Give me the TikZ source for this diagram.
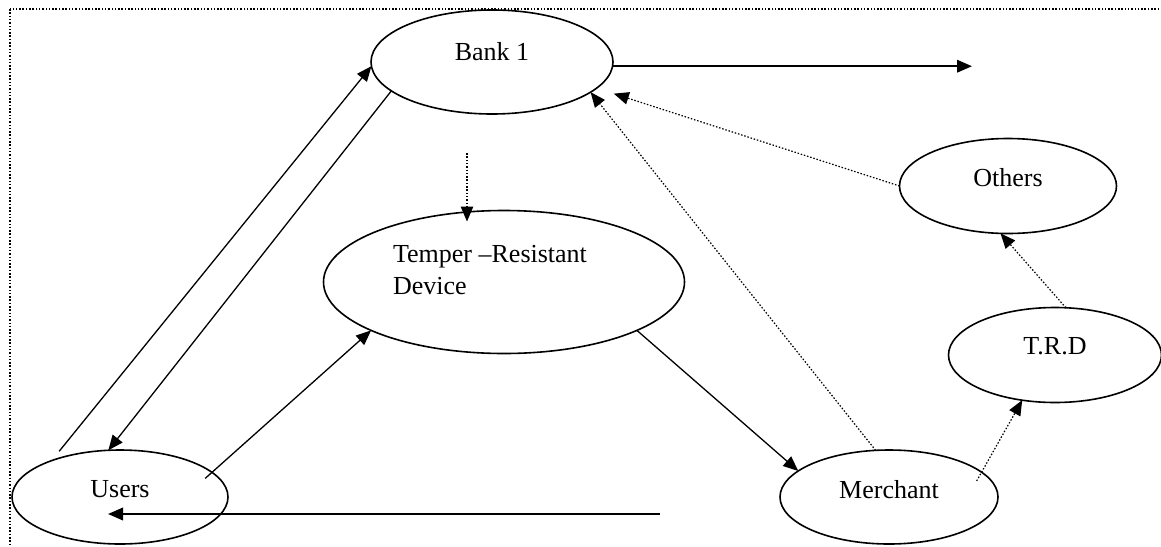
\documentclass[tikz,border=0pt]{standalone}
\usepackage{fontspec}
\setmainfont{Liberation Serif}
\usetikzlibrary{shapes.geometric,arrows.meta,calc}

\begin{document}
\begin{tikzpicture}[
	x=1pt, y=-1pt,
	oval/.style={
		ellipse,
		draw,
		line width=1.6pt,
		inner sep=0pt,
		outer sep=0pt
	},
	tag/.style={
		font=\fontsize{26}{32}\selectfont,
		inner sep=0pt
	},
	arr/.style={
		-{Triangle[length=15pt,width=12.5pt]},
		line width=1.3pt
	},
	boldarr/.style={
		arr,
		line width=2pt
	},
	dotarr/.style={
		arr,
		line width=1.2pt,
		dash pattern=on 1.5pt off 1.8pt
	}
	]
	
	\useasboundingbox (0,0) rectangle (1161,546);
	\draw[line width=1.2pt, dash pattern=on 1.5pt off 1.8pt] (10,9) rectangle (1190,580);
	
	\node[
	oval,
	minimum width=242pt,
	minimum height=104pt,
	label={[tag, yshift=10pt]center:Bank 1}
	] (bank) at (492,62) {};
	
	\node[
	oval,
	minimum width=361pt,
	minimum height=143pt,
	label={[tag, align=left, xshift=-14pt, yshift=12pt]center:Temper --Resistant\\Device}
	] (trd) at (504,282) {};
	
	\node[
	oval,
	minimum width=216pt,
	minimum height=94pt,
	label={[tag, yshift=8pt]center:Users}
	] (users) at (120,497) {};
	
	\node[
	oval,
	minimum width=218pt,
	minimum height=94pt,
	label={[tag, yshift=7pt]center:Merchant}
	] (merchant) at (889,497) {};
	
	\node[
	oval,
	minimum width=217pt,
	minimum height=95pt,
	label={[tag, yshift=8pt]center:Others}
	] (others) at (1008,186) {};
	
	\node[
	oval,
	minimum width=213pt,
	minimum height=95pt,
	label={[tag, yshift=9pt]center:T.R.D}
	] (trdsmall) at (1055,355) {};
	
	\coordinate (bankout) at (972,66);
	\coordinate (payback) at (660,514);
	\coordinate (payend) at (108,514);
	\coordinate (bankdown) at (467,153);
	
	\draw[arr, shorten <=12pt] (users.152) -- (bank.182);
	\draw[arr] (bank.196) -- (users.104);
	\draw[arr, shorten <=-9pt] (users.15) -- (trd.200);
	\draw[arr] (trd.340) -- (merchant.164);
	\draw[boldarr] (bank.-2) -- (bank.-2 -| bankout);
	\draw[boldarr] (payback) -- (payend);
	
	\draw[dotarr, shorten >=-11pt] (bankdown) -- (bankdown |- trd.north);
	\draw[dotarr] (merchant.106) -- (bank.343);
	\draw[dotarr, shorten >=18pt] (others.west) -- (bank.346);
	\draw[dotarr, shorten <=-10pt] (merchant.15) -- (trdsmall.234);
	\draw[dotarr] (trdsmall.77) -- (others.261);
	
\end{tikzpicture}
\end{document}
